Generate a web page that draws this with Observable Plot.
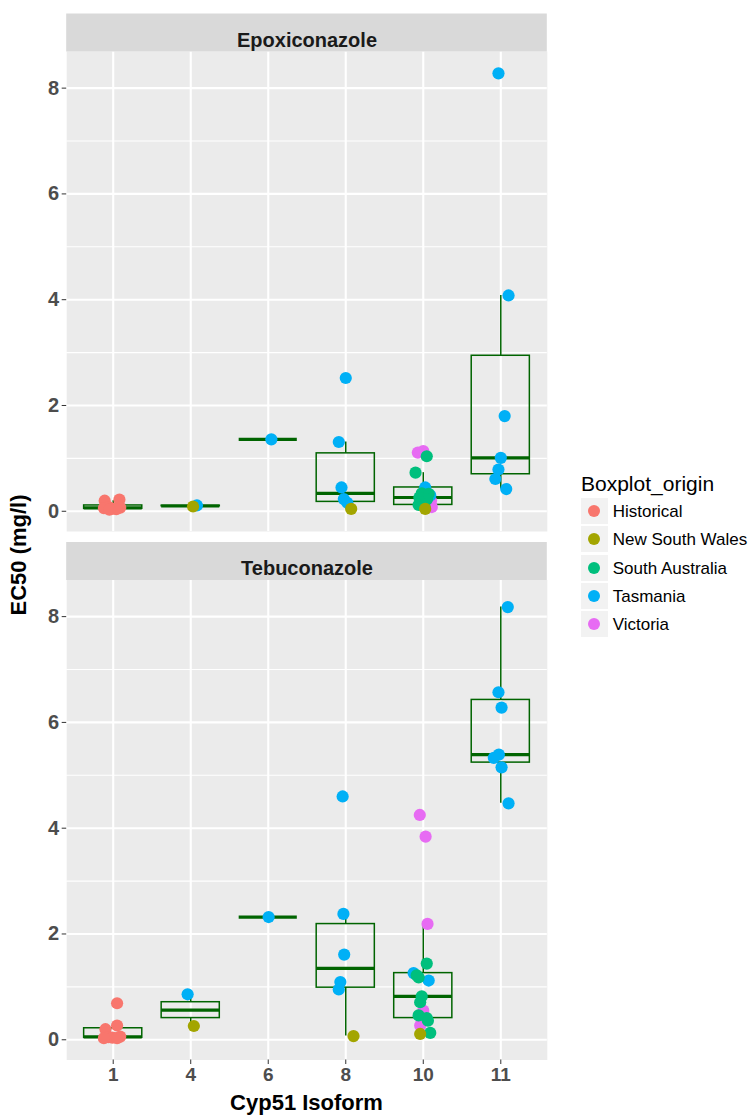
<!DOCTYPE html>
<html><head><meta charset="utf-8">
<script src="https://cdn.jsdelivr.net/npm/d3@7"></script>
<script src="https://cdn.jsdelivr.net/npm/@observablehq/plot@0.6"></script>
<style>
body{margin:0;background:#fff;}
#wrap{position:relative;width:751px;height:1115px;font-family:"Liberation Sans",Arial,Helvetica,sans-serif;overflow:hidden;}
.abs{position:absolute;white-space:nowrap;}
</style></head><body><div id="wrap"></div>
<script>
const panels = ["Epoxiconazole", "Tebuconazole"];
const categories = ["1", "4", "6", "8", "10", "11"];
const origins = ["Historical", "New South Wales", "South Australia", "Tasmania", "Victoria"];
const originColors = ["#F8766D", "#A3A500", "#00BF7D", "#00B0F6", "#E76BF3"];
const majorTicks = [0, 2, 4, 6, 8];
const minorTicks = [1, 3, 5, 7];

// [Cyp51 isoform, EC50 (mg/l), horizontal jitter, origin]
const epoxiconazole = [
  ["1", 0.22, 0.08, "Historical"], ["1", 0.20, -0.11, "Historical"], ["1", 0.08, -0.06, "Historical"],
  ["1", 0.07, 0.09, "Historical"], ["1", 0.06, -0.12, "Historical"], ["1", 0.05, -0.01, "Historical"],
  ["1", 0.04, 0.04, "Historical"], ["1", 0.03, -0.05, "Historical"],
  ["4", 0.11, 0.08, "Tasmania"], ["4", 0.09, 0.03, "New South Wales"],
  ["6", 1.36, 0.04, "Tasmania"],
  ["8", 2.52, 0.0, "Tasmania"], ["8", 1.31, -0.09, "Tasmania"], ["8", 0.45, -0.055, "Tasmania"],
  ["8", 0.23, -0.025, "Tasmania"], ["8", 0.16, 0.02, "Tasmania"], ["8", 0.045, 0.07, "New South Wales"],
  ["10", 0.08, 0.11, "Victoria"], ["10", 0.06, 0.04, "Victoria"], ["10", 0.20, 0.10, "Victoria"],
  ["10", 0.30, 0.09, "Tasmania"], ["10", 1.14, 0.0, "Victoria"], ["10", 1.11, -0.07, "Victoria"],
  ["10", 1.04, 0.045, "South Australia"], ["10", 0.73, -0.10, "South Australia"], ["10", 0.45, 0.025, "Tasmania"],
  ["10", 0.34, -0.02, "South Australia"], ["10", 0.33, 0.07, "South Australia"], ["10", 0.26, -0.05, "South Australia"],
  ["10", 0.23, 0.05, "South Australia"], ["10", 0.17, -0.035, "South Australia"], ["10", 0.12, -0.06, "South Australia"],
  ["10", 0.10, 0.015, "South Australia"], ["10", 0.045, 0.025, "New South Wales"],
  ["11", 8.28, -0.03, "Tasmania"], ["11", 4.08, 0.10, "Tasmania"], ["11", 1.80, 0.05, "Tasmania"],
  ["11", 1.01, 0.0, "Tasmania"], ["11", 0.79, -0.03, "Tasmania"], ["11", 0.61, -0.07, "Tasmania"],
  ["11", 0.42, 0.07, "Tasmania"]
];
const tebuconazole = [
  ["1", 0.69, 0.05, "Historical"], ["1", 0.27, 0.05, "Historical"], ["1", 0.20, -0.10, "Historical"],
  ["1", 0.06, 0.09, "Historical"], ["1", 0.05, -0.06, "Historical"], ["1", 0.04, -0.01, "Historical"],
  ["1", 0.03, -0.12, "Historical"], ["1", 0.03, 0.05, "Historical"],
  ["4", 0.86, -0.04, "Tasmania"], ["4", 0.26, 0.04, "New South Wales"],
  ["6", 2.32, 0.005, "Tasmania"],
  ["8", 4.60, -0.04, "Tasmania"], ["8", 2.38, -0.03, "Tasmania"], ["8", 1.61, -0.02, "Tasmania"],
  ["8", 1.09, -0.07, "Tasmania"], ["8", 0.95, -0.09, "Tasmania"], ["8", 0.07, 0.10, "New South Wales"],
  ["10", 1.26, -0.125, "Tasmania"], ["10", 1.12, 0.07, "Tasmania"], ["10", 4.25, -0.045, "Victoria"],
  ["10", 3.84, 0.03, "Victoria"], ["10", 2.19, 0.055, "Victoria"], ["10", 0.55, 0.0, "Victoria"],
  ["10", 0.27, -0.04, "Victoria"], ["10", 1.44, 0.045, "South Australia"], ["10", 1.22, -0.085, "South Australia"],
  ["10", 1.18, -0.06, "South Australia"], ["10", 0.82, -0.02, "South Australia"], ["10", 0.71, -0.04, "South Australia"],
  ["10", 0.46, -0.06, "South Australia"], ["10", 0.41, 0.045, "South Australia"], ["10", 0.36, 0.06, "South Australia"],
  ["10", 0.13, 0.09, "South Australia"], ["10", 0.11, -0.04, "New South Wales"],
  ["11", 8.18, 0.09, "Tasmania"], ["11", 6.57, -0.03, "Tasmania"], ["11", 6.28, 0.01, "Tasmania"],
  ["11", 5.39, -0.025, "Tasmania"], ["11", 5.33, -0.09, "Tasmania"], ["11", 5.15, 0.01, "Tasmania"],
  ["11", 4.47, 0.10, "Tasmania"]
];

const boxColor = "#006400";
const font = '"Liberation Sans", Arial, Helvetica, sans-serif';

const points = [];
[[panels[0], epoxiconazole], [panels[1], tebuconazole]].forEach(([panel, rows]) => {
  rows.forEach(([iso, value, jitter, origin]) => {
    const i = categories.indexOf(iso);
    points.push({panel, iso, i, x: i + jitter, value, origin});
  });
});

const boxes = [];
panels.forEach(panel => {
  categories.forEach((cat, i) => {
    const v = points.filter(p => p.panel === panel && p.iso === cat).map(p => p.value).sort(d3.ascending);
    if (!v.length) return;
    const q1 = d3.quantile(v, 0.25), med = d3.quantile(v, 0.5), q3 = d3.quantile(v, 0.75);
    const iqr = q3 - q1;
    const lo = d3.min(v.filter(x => x >= q1 - 1.5 * iqr));
    const hi = d3.max(v.filter(x => x <= q3 + 1.5 * iqr));
    boxes.push({panel, i, q1, med, q3, lo, hi});
  });
});

const ext = d3.extent(points, d => d.value);
const pad = (ext[1] - ext[0]) * 0.05;
const yDomain = [ext[0] - pad, ext[1] + pad];
const hw = 0.375;

const chart = Plot.plot({
  width: 751,
  height: 1115,
  marginLeft: 66.2,
  marginRight: 204.2,
  marginTop: 51,
  marginBottom: 55.5,
  style: {fontFamily: font, background: "white", overflow: "visible"},
  x: {domain: [-0.6, categories.length - 0.4], axis: null},
  y: {domain: yDomain, axis: null},
  fy: {domain: panels, paddingInner: 0.09175, paddingOuter: 0, round: false, axis: null},
  color: {domain: origins, range: originColors},
  marks: [
    Plot.frame({fill: "#EBEBEB"}),
    Plot.gridY(minorTicks, {stroke: "#fff", strokeOpacity: 1, strokeWidth: 1.1}),
    Plot.gridY(majorTicks, {stroke: "#fff", strokeOpacity: 1, strokeWidth: 2.1}),
    Plot.gridX(d3.range(categories.length), {stroke: "#fff", strokeOpacity: 1, strokeWidth: 2.1}),
    Plot.ruleX(boxes, {x: "i", y1: "q3", y2: "hi", fy: "panel", stroke: boxColor, strokeWidth: 1.5}),
    Plot.ruleX(boxes, {x: "i", y1: "lo", y2: "q1", fy: "panel", stroke: boxColor, strokeWidth: 1.5}),
    Plot.rect(boxes, {x1: d => d.i - hw, x2: d => d.i + hw, y1: "q1", y2: "q3", fy: "panel", fill: "none", stroke: boxColor, strokeWidth: 1.5}),
    Plot.ruleY(boxes, {y: "med", x1: d => d.i - hw, x2: d => d.i + hw, fy: "panel", stroke: boxColor, strokeWidth: 3.2}),
    Plot.dot(points, {x: "x", y: "value", fy: "panel", fill: "origin", r: 6.1}),
    Plot.ruleY([yDomain[1]], {stroke: "#D9D9D9", strokeWidth: 38, dy: -19}),
    Plot.text(panels, {fy: d => d, text: d => d, frameAnchor: "top", dy: -19, fontSize: 20, fontWeight: "bold", fill: "#1A1A1A"}),
    Plot.axisY(majorTicks, {anchor: "left", tickSize: 4.5, tickPadding: 3, tickFormat: d => String(d), fontSize: 20, fontWeight: "bold", stroke: "#333333", fill: "#4D4D4D", label: null}),
    Plot.axisX(d3.range(categories.length), {anchor: "bottom", tickSize: 4.5, tickPadding: 3, tickFormat: i => categories[i], fontSize: 19, fontWeight: "bold", stroke: "#333333", fill: "#4D4D4D", label: null})
  ]
});

const wrap = document.getElementById("wrap");
wrap.appendChild(chart);

// axis titles
const yt = document.createElement("div");
yt.className = "abs";
yt.textContent = "EC50 (mg/l)";
Object.assign(yt.style, {left: "19px", top: "555px", transform: "translate(-50%,-50%) rotate(-90deg)", fontSize: "22px", fontWeight: "bold", color: "#000", lineHeight: "22px"});
wrap.appendChild(yt);
const xt = document.createElement("div");
xt.className = "abs";
xt.textContent = "Cyp51 Isoform";
Object.assign(xt.style, {left: "306.5px", top: "1103px", transform: "translate(-50%,-50%)", fontSize: "22px", fontWeight: "bold", color: "#000", lineHeight: "22px"});
wrap.appendChild(xt);

// legend
const lt = document.createElement("div");
lt.className = "abs";
lt.textContent = "Boxplot_origin";
Object.assign(lt.style, {left: "581px", top: "473px", fontSize: "21px", lineHeight: "21px", color: "#000"});
wrap.appendChild(lt);
origins.forEach((o, k) => {
  const top = 498.3 + k * 28.1;
  const key = document.createElement("div");
  key.className = "abs";
  Object.assign(key.style, {left: "581px", top: top + "px", width: "26.7px", height: "26px", background: "#F2F2F2"});
  const dot = document.createElement("div");
  Object.assign(dot.style, {position: "absolute", left: "7.35px", top: "7px", width: "12px", height: "12px", borderRadius: "50%", background: originColors[k]});
  key.appendChild(dot);
  wrap.appendChild(key);
  const lab = document.createElement("div");
  lab.className = "abs";
  lab.textContent = o;
  Object.assign(lab.style, {left: "612.7px", top: (top + 13) + "px", transform: "translateY(-50%)", fontSize: "17px", lineHeight: "17px", color: "#000"});
  wrap.appendChild(lab);
});
</script></body></html>
